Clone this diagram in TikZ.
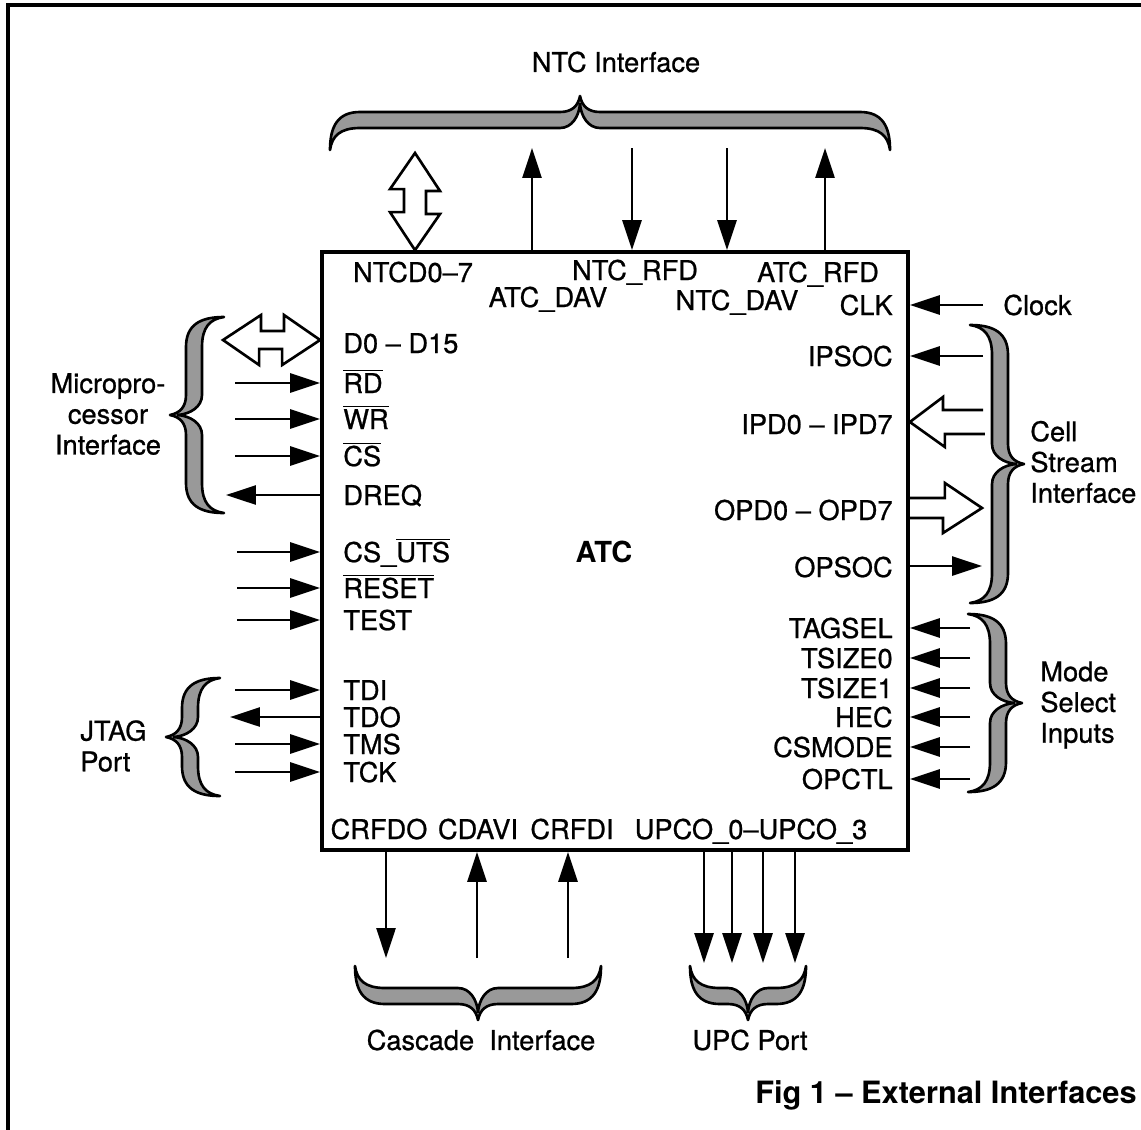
\documentclass[tikz,border=0pt]{standalone}
\usepackage{fontspec}
\setmainfont{TeX Gyre Heros}
\newfontfamily\heavy[Ligatures=TeX, FakeBold=0.8]{TeX Gyre Heros}
\usetikzlibrary{arrows.meta}

\newcommand\ovl[1]{$\overline{\mbox{#1}}$}
% calligraphic brace, tip 54 units from its ends, halves #1 and #2
\newcommand\bracepath[2]{(-#1,0) .. controls (-#1,-24) and ({-#1+8},-38) .. ({-#1+30},-38) -- (-20,-38) .. controls (-8,-38) and (-2,-44) .. (0,-54) .. controls (2,-44) and (8,-38) .. (20,-38) -- ({#2-30},-38) .. controls ({#2-8},-38) and (#2,-24) .. (#2,0) .. controls ({#2-2},-14) and ({#2-10},-22) .. ({#2-30},-22) -- (20,-22) .. controls (8,-22) and (1,-34) .. (0,-46) .. controls (-1,-34) and (-8,-22) .. (-20,-22) -- ({-#1+30},-22) .. controls ({-#1+10},-22) and ({-#1+2},-14) .. (-#1,0) -- cycle}

\tikzset{
  txt/.style={font=\heavy\fontsize{15.5}{17.5}\selectfont, inner sep=0pt},
  pin/.style={txt, text height=0.4cm, text depth=0pt},
  pinl/.style={pin, anchor=west},
  pinr/.style={pin, anchor=east},
  sig/.style={line width=1.6pt, -{Triangle[length=0.6cm, width=0.38cm]}},
  bus/.style={line width=1.5pt, line join=miter},
  brc/.style={draw, line width=1.5pt, fill=black!40, line join=round},
  chip/.style={draw, line width=2.2pt, minimum width=11.72cm, minimum height=11.96cm, inner sep=0pt},
}

\begin{document}
\begin{tikzpicture}[x=0.02cm, y=-0.02cm]
    \useasboundingbox (0,0) rectangle (1141,1129);
    % frame
    \draw[line width=2.3pt] (8,1140) -- (8,5) -- (1150,5);

    % the chip
    \node[chip] (chip) at (615,551) {};
    \node[txt, font=\bfseries\fontsize{16.5}{18}\selectfont] (atc) at (604,552) {ATC};

    % NTC interface
    \node[txt] (ntc) at (616,62) {NTC Interface};
    \draw[brc, shift={(580,150)}] \bracepath{250}{310};
    \coordinate (ntcd) at (415,153);
    \draw[bus] (ntcd) -- ++(25,38) -- ++(-14,0) -- ++(0,23) -- ++(14,0) -- (ntcd |- chip.north) -- ++(-25,-38) -- ++(14,0) -- ++(0,-23) -- ++(-14,0) -- cycle;
    \node[pin] (ntcdl) at (413,272) {NTCD0--7};
    \coordinate (atcdav) at (532,148); \draw[sig] (atcdav |- chip.north) -- (atcdav);
    \node[pin] (atcdavl) at (548,297) {ATC\_DAV};
    \coordinate (ntcrfd) at (632,148); \draw[sig] (ntcrfd) -- (ntcrfd |- chip.north);
    \node[pin] (ntcrfdl) at (635,270) {NTC\_RFD};
    \coordinate (ntcdav) at (727,148); \draw[sig] (ntcdav) -- (ntcdav |- chip.north);
    \node[pin] (ntcdavl) at (737,300) {NTC\_DAV};
    \coordinate (atcrfd) at (825,148); \draw[sig] (atcrfd |- chip.north) -- (atcrfd);
    \node[pin] (atcrfdl) at (818,272) {ATC\_RFD};

    % microprocessor interface
    \node[txt, align=center] (mpu) at (108,414) {Micropro-\\cessor\\Interface};
    \draw[brc, shift={(224,415)}, rotate=90] \bracepath{98}{98};
    \coordinate (dbus) at (223,340);
    \draw[bus] (dbus) -- ++(38,-25) -- ++(0,16) -- ++(23,0) -- ++(0,-16) -- (dbus -| chip.west) -- ++(-38,25) -- ++(0,-16) -- ++(-23,0) -- ++(0,16) -- cycle;
    \node[pinl] (d015) at (343,343) {D0 -- D15};
    \node[pinl] (rd) at (343,383) {\ovl{RD}};     \coordinate (rd-s) at (235,383);   \draw[sig] (rd-s) -- (rd-s -| chip.west);
    \node[pinl] (wr) at (343,419) {\ovl{WR}};     \coordinate (wr-s) at (235,419);   \draw[sig] (wr-s) -- (wr-s -| chip.west);
    \node[pinl] (cs) at (343,456) {\ovl{CS}};     \coordinate (cs-s) at (235,456);   \draw[sig] (cs-s) -- (cs-s -| chip.west);
    \node[pinl] (dreq) at (343,495) {DREQ};       \coordinate (dreq-s) at (226,495); \draw[sig] (dreq-s -| chip.west) -- (dreq-s);

    % misc inputs
    \node[pinl] (csuts) at (343,552) {CS\_\ovl{UTS}}; \coordinate (csuts-s) at (237,552); \draw[sig] (csuts-s) -- (csuts-s -| chip.west);
    \node[pinl] (reset) at (343,588) {\ovl{RESET}};   \coordinate (reset-s) at (237,588); \draw[sig] (reset-s) -- (reset-s -| chip.west);
    \node[pinl] (test) at (343,620) {TEST};           \coordinate (test-s) at (237,620);  \draw[sig] (test-s) -- (test-s -| chip.west);

    % JTAG port
    \node[txt, align=left, anchor=west] (jtag) at (80,746) {JTAG\\Port};
    \draw[brc, shift={(220,737)}, rotate=90] \bracepath{59}{59};
    \node[pinl] (tdi) at (343,690) {TDI}; \coordinate (tdi-s) at (235,690); \draw[sig] (tdi-s) -- (tdi-s -| chip.west);
    \node[pinl] (tdo) at (343,717) {TDO}; \coordinate (tdo-s) at (230,717); \draw[sig] (tdo-s -| chip.west) -- (tdo-s);
    \node[pinl] (tms) at (343,744) {TMS}; \coordinate (tms-s) at (235,744); \draw[sig] (tms-s) -- (tms-s -| chip.west);
    \node[pinl] (tck) at (343,772) {TCK}; \coordinate (tck-s) at (235,772); \draw[sig] (tck-s) -- (tck-s -| chip.west);

    % clock
    \node[txt, anchor=west] (clock) at (1003,305) {Clock};
    \node[pinr] (clk) at (893,305) {CLK}; \coordinate (clk-s) at (983,305); \draw[sig] (clk-s) -- (clk-s -| chip.east);

    % cell stream interface
    \node[txt, align=left, anchor=west] (cell) at (1030,462) {Cell\\Stream\\Interface};
    \draw[brc, shift={(970,464)}, rotate=-90] \bracepath{139}{139};
    \node[pinr] (ipsoc) at (893,356) {IPSOC}; \coordinate (ipsoc-s) at (983,356); \draw[sig] (ipsoc-s) -- (ipsoc-s -| chip.east);
    \node[pinr] (ipd) at (893,424) {IPD0 -- IPD7};
    \coordinate (ipdbus) at (983,422);
    \draw[bus] (ipdbus) ++(0,-12) -- ++(-40,0) -- ++(0,-13) -- (ipdbus -| chip.east) -- ++(35,25) -- ++(0,-13) -- ++(40,0);
    \node[pinr] (opd) at (893,510) {OPD0 -- OPD7};
    \coordinate (opdbus) at (982,508);
    \draw[bus] (opdbus -| chip.east) ++(0,-10) -- ++(35,0) -- ++(0,-15) -- (opdbus) -- ++(-39,25) -- ++(0,-15) -- ++(-35,0);
    \node[pinr] (opsoc) at (893,567) {OPSOC}; \coordinate (opsoc-s) at (982,566); \draw[sig] (opsoc-s -| chip.east) -- (opsoc-s);

    % mode select inputs
    \node[txt, align=left, anchor=west] (mode) at (1040,705) {Mode\\Select\\Inputs};
    \draw[brc, shift={(968,703)}, rotate=-90] \bracepath{89}{89};
    \node[pinr] (tagsel) at (893,628) {TAGSEL}; \coordinate (tagsel-s) at (970,628); \draw[sig] (tagsel-s) -- (tagsel-s -| chip.east);
    \node[pinr] (tsize0) at (893,658) {TSIZE0}; \coordinate (tsize0-s) at (970,658); \draw[sig] (tsize0-s) -- (tsize0-s -| chip.east);
    \node[pinr] (tsize1) at (893,688) {TSIZE1}; \coordinate (tsize1-s) at (970,688); \draw[sig] (tsize1-s) -- (tsize1-s -| chip.east);
    \node[pinr] (hec) at (893,717) {HEC};       \coordinate (hec-s) at (970,717);    \draw[sig] (hec-s) -- (hec-s -| chip.east);
    \node[pinr] (csmode) at (893,747) {CSMODE}; \coordinate (csmode-s) at (970,747); \draw[sig] (csmode-s) -- (csmode-s -| chip.east);
    \node[pinr] (opctl) at (893,779) {OPCTL};   \coordinate (opctl-s) at (970,779);  \draw[sig] (opctl-s) -- (opctl-s -| chip.east);

    % cascade interface
    \node[pin] (crfdo) at (379,829) {CRFDO}; \coordinate (crfdo-s) at (386,958); \draw[sig] (crfdo-s |- chip.south) -- (crfdo-s);
    \node[pin] (cdavi) at (478,829) {CDAVI}; \coordinate (cdavi-s) at (477,958); \draw[sig] (cdavi-s) -- (cdavi-s |- chip.south);
    \node[pin] (crfdi) at (572,829) {CRFDI}; \coordinate (crfdi-s) at (568,958); \draw[sig] (crfdi-s) -- (crfdi-s |- chip.south);
    \draw[brc, shift={(478,966)}, rotate=180] \bracepath{123}{123};
    \node[txt] (casc) at (481,1040) {Cascade\ \ Interface};

    % UPC port
    \node[pin] (upco) at (751,829) {UPCO\_0--UPCO\_3};
    \coordinate (upc0) at (704,963); \draw[sig] (upc0 |- chip.south) -- (upc0);
    \coordinate (upc1) at (732,963); \draw[sig] (upc1 |- chip.south) -- (upc1);
    \coordinate (upc2) at (763,963); \draw[sig] (upc2 |- chip.south) -- (upc2);
    \coordinate (upc3) at (795,963); \draw[sig] (upc3 |- chip.south) -- (upc3);
    \draw[brc, shift={(748,966)}, rotate=180] \bracepath{58}{58};
    \node[txt] (upc) at (750,1040) {UPC Port};

    % caption
    \node[txt, font=\bfseries\fontsize{17.5}{20}\selectfont, anchor=east] (fig) at (1137,1095) {Fig 1 -- External Interfaces};
\end{tikzpicture}
\end{document}
